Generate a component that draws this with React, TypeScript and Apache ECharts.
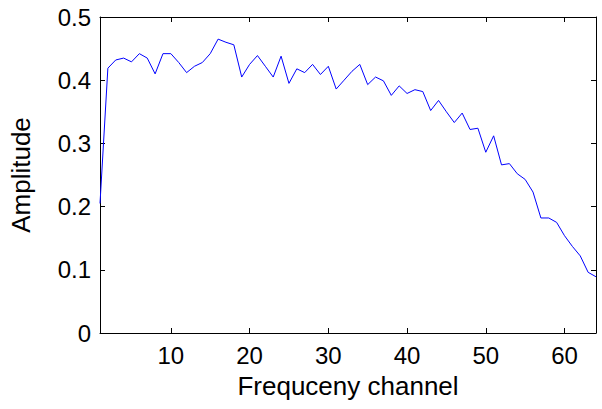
import React, { useEffect, useRef } from "react";
import * as echarts from "echarts";

const amplitude: number[] = [
  0.205, 0.419, 0.432, 0.435, 0.429, 0.442, 0.435, 0.41, 0.442, 0.442,
  0.428, 0.412, 0.422, 0.428, 0.442, 0.465, 0.46, 0.456, 0.405, 0.425,
  0.439, 0.422, 0.405, 0.438, 0.395, 0.418, 0.412, 0.425, 0.409, 0.422,
  0.386, 0.4, 0.414, 0.425, 0.393, 0.405, 0.399, 0.376, 0.391, 0.379,
  0.385, 0.382, 0.352, 0.368, 0.35, 0.333, 0.348, 0.322, 0.324, 0.286,
  0.312, 0.266, 0.268, 0.252, 0.243, 0.223, 0.182, 0.182, 0.175, 0.154,
  0.137, 0.122, 0.096, 0.089,
];
const xTicks: number[] = [10, 20, 30, 40, 50, 60];
const xLabel = "Frequceny channel";
const yLabel = "Amplitude";

const FONT = "'Liberation Sans', Arial, sans-serif";

export default function App() {
  const ref = useRef<HTMLDivElement>(null);
  useEffect(() => {
    if (!ref.current) return;
    const chart = echarts.init(ref.current, undefined, { renderer: "svg" });
    const data = amplitude.map((v, i) => [i + 1, v]);
    const axisLine = { show: true, onZero: false, lineStyle: { color: "#000", width: 1 } };
    chart.setOption({
      animation: false,
      backgroundColor: "#fff",
      grid: { left: 99, right: 6, top: 17, bottom: 76, containLabel: false },
      xAxis: [
        {
          type: "value",
          min: 1,
          max: 64,
          position: "bottom",
          axisLine,
          axisTick: { show: true, inside: true, length: 5, customValues: xTicks, lineStyle: { color: "#000" } },
          axisLabel: { show: true, customValues: xTicks, color: "#000", fontSize: 24, fontFamily: FONT, margin: 10 },
          splitLine: { show: false },
          name: xLabel,
          nameLocation: "middle",
          nameGap: 40,
          nameTextStyle: { color: "#000", fontSize: 26, fontFamily: FONT },
        },
        {
          type: "value",
          min: 1,
          max: 64,
          position: "top",
          axisLine,
          axisTick: { show: true, inside: true, length: 5, customValues: xTicks, lineStyle: { color: "#000" } },
          axisLabel: { show: false },
          splitLine: { show: false },
        },
      ],
      yAxis: [
        {
          type: "value",
          min: 0,
          max: 0.5,
          interval: 0.1,
          position: "left",
          axisLine,
          axisTick: { show: true, inside: true, length: 5, lineStyle: { color: "#000" } },
          axisLabel: { color: "#000", fontSize: 24, fontFamily: FONT, margin: 9 },
          splitLine: { show: false },
          name: yLabel,
          nameLocation: "middle",
          nameGap: 66,
          nameTextStyle: { color: "#000", fontSize: 26, fontFamily: FONT },
        },
        {
          type: "value",
          min: 0,
          max: 0.5,
          interval: 0.1,
          position: "right",
          axisLine,
          axisTick: { show: true, inside: true, length: 5, lineStyle: { color: "#000" } },
          axisLabel: { show: false },
          splitLine: { show: false },
        },
      ],
      series: [
        {
          type: "line",
          data,
          xAxisIndex: 0,
          yAxisIndex: 0,
          showSymbol: false,
          symbol: "none",
          lineStyle: { color: "#0000ff", width: 1 },
          clip: true,
        },
      ],
    });
    return () => chart.dispose();
  }, []);
  return (
    <div
      ref={ref}
      style={{ position: "fixed", left: 0, top: 0, width: 602, height: 409, background: "#fff" }}
    />
  );
}
